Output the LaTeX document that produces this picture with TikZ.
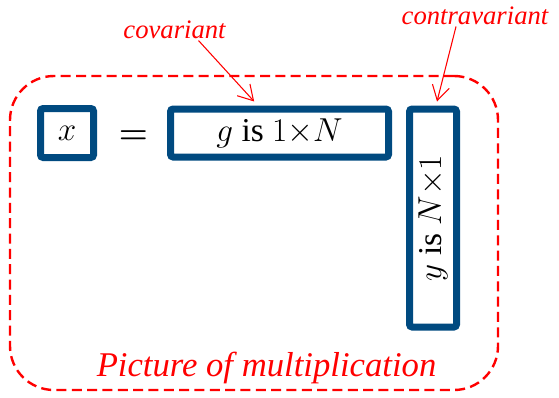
\documentclass[tikz,border=0pt]{standalone}
\usepackage{fontspec}
\setmainfont{Liberation Serif}
\usetikzlibrary{arrows.meta,positioning,calc}
\definecolor{boxblue}{RGB}{0,74,128}
\definecolor{notered}{RGB}{255,0,0}

\begin{document}
\begin{tikzpicture}[
  x=1pt, y=1pt,
  mbox/.style={draw=boxblue, line width=5.25pt, rounded corners=2pt, inner sep=0pt, font=\fontsize{25}{28}\selectfont},
  note/.style={text=notered, font=\fontsize{20}{24}\selectfont\itshape, inner sep=1pt},
  arr/.style={-{Straight Barb[length=11pt, width=13pt]}, draw=notered, line width=0.8pt},
  frame/.style={draw=notered, line width=1.8pt, dash pattern=on 7.5pt off 4pt, rounded corners=33pt, minimum width=366pt, minimum height=235.5pt}
]
\useasboundingbox (0,0) rectangle (419.25,297.75);
% dashed frame round the product
\node[frame] (frame) at (190.5,123) {};
\node[note, font=\fontsize{26}{30}\selectfont\itshape, anchor=base] (caption) at ([xshift=9.4pt, yshift=11.25pt]frame.south) {Picture of multiplication};
% the three factors
\node[mbox, minimum width=39.75pt, minimum height=36.75pt] (xbox) at (50.25,198) {$x$};
\node[mbox, minimum width=163.5pt, minimum height=36pt, right=52.5pt of xbox] (gbox) {$g$ is $1{\times}N$};
\node[mbox, minimum width=35.25pt, minimum height=163.5pt, right=10.5pt of gbox.north east, anchor=north west] (ybox) {\rotatebox{90}{$y$ is $N{\times}1$}};
\node[font=\fontsize{40}{44}\selectfont\boldmath, yshift=-3pt] (eq) at ($(xbox.east)!0.52!(gbox.west)$) {$=$};
% labels
\node[note] (cov) at (130.9,275.25) {covariant};
\node[note] (contra) at (356.25,285.75) {contravariant};
\draw[arr] ([xshift=18pt]cov.south) -- ([xshift=-19pt, yshift=3pt]gbox.north);
\draw[arr] ([xshift=-14.25pt]contra.south) -- ([xshift=3pt, yshift=3pt]ybox.north);
\end{tikzpicture}
\end{document}
